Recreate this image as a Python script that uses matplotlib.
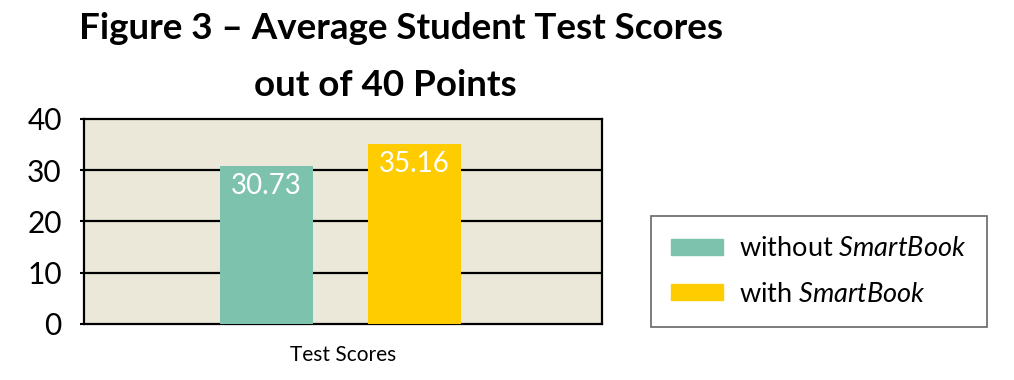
import matplotlib.pyplot as plt
from matplotlib.patches import Patch

plt.rcParams['font.family'] = ['Lato', 'DejaVu Sans']
plt.rcParams['mathtext.fontset'] = 'custom'
plt.rcParams['mathtext.rm'] = 'Lato'
plt.rcParams['mathtext.it'] = 'Lato:italic'

series = ['without SmartBook', 'with SmartBook']
scores = [30.73, 35.16]
colors = ['#7DC2AD', '#FFCC00']
category = 'Test Scores'
yticks = [0, 10, 20, 30, 40]

fig = plt.figure(figsize=(10.14, 3.8), dpi=100)
ax = fig.add_axes([0.0828, 0.1474, 0.5109, 0.5395])
ax.set_facecolor('#EBE8DA')

offsets = [-0.148, 0.138]
bars = ax.bar(offsets, scores, width=0.18, color=colors, zorder=3)
for b, v in zip(bars, scores):
    ax.annotate(f'{v:.2f}', (b.get_x() + b.get_width() / 2, v),
                xytext=(0, -5), textcoords='offset points',
                ha='center', va='top', color='white', fontsize=20, zorder=4)

ax.set_xlim(-0.5, 0.5)
ax.set_ylim(0, 40)
ax.set_yticks(yticks)
ax.tick_params(axis='y', labelsize=21.5, length=3, width=1.5, pad=13)
ax.set_xticks([0])
ax.set_xticklabels([category], fontsize=15)
ax.tick_params(axis='x', length=0, pad=15)
for y in yticks[1:-1]:
    ax.axhline(y, color='black', lw=1.6, zorder=2)
for s in ax.spines.values():
    s.set_linewidth(1.6)

fig.text(0.395, 0.925, 'Figure 3 \u2013 Average Student Test Scores',
         ha='center', va='center', fontsize=26.5, fontweight='bold')
fig.text(0.38, 0.775, 'out of 40 Points',
         ha='center', va='center', fontsize=26.5, fontweight='bold')

handles = [Patch(color=c) for c in colors]
labels = [r'without $\it{SmartBook}$', r'with $\it{SmartBook}$']
leg = fig.legend(handles, labels, loc='upper left',
                 bbox_to_anchor=(651 / 1014, 1 - 216 / 380),
                 fontsize=19.5, frameon=True, fancybox=False,
                 handlelength=1.9, handleheight=0.55, handletextpad=0.6,
                 borderpad=0.75, labelspacing=0.75, borderaxespad=0)
leg.get_frame().set_edgecolor('#404040')
leg.get_frame().set_linewidth(1.2)

fig.savefig('out.png', dpi=100)
